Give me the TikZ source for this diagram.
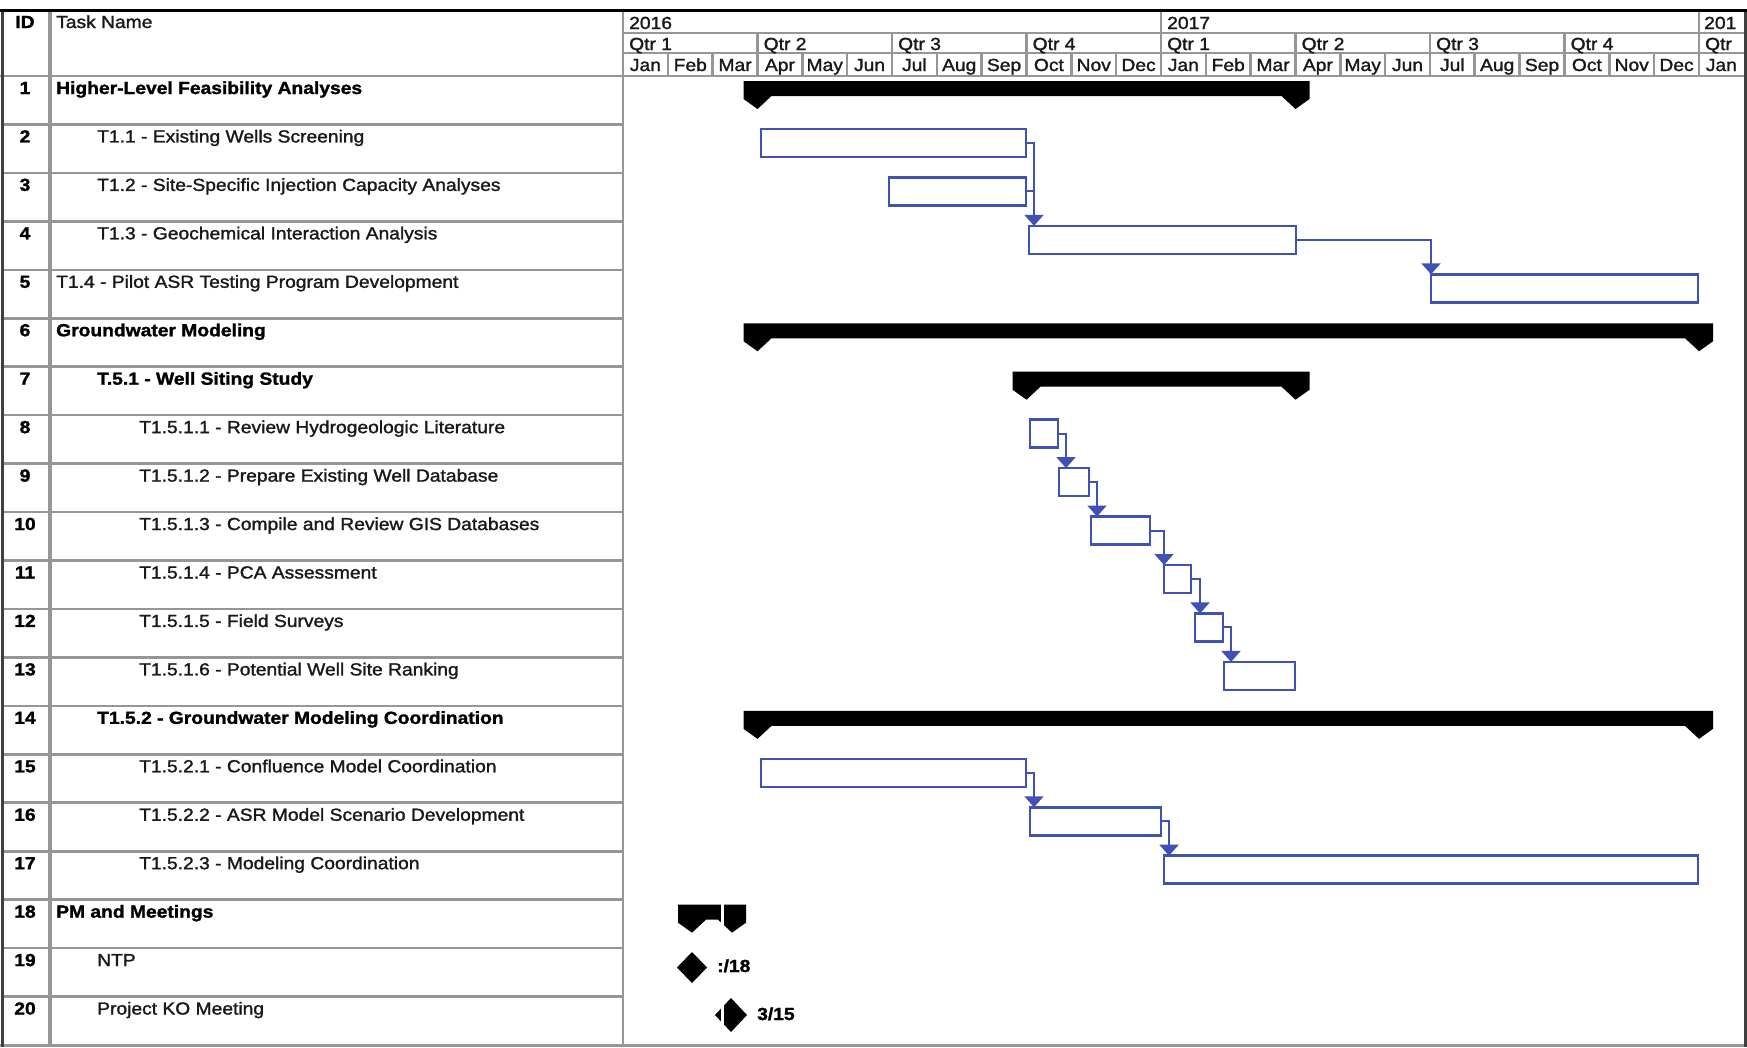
\documentclass[tikz,border=0pt]{standalone}
\usepackage{fontspec}
\setmainfont{Liberation Sans}[FakeStretch=1.1, FakeBold=1.5]
\usetikzlibrary{arrows.meta}
\definecolor{barblue}{RGB}{63,81,181}
\definecolor{gridgray}{RGB}{150,150,150}
\newcommand{\gsum}[3]{%
  \fill[black] (#1-14,#3+5) -- (#2+14,#3+5) -- (#2+14,#3+23) -- (#2,#3+33) -- (#2-14,#3+20)
    -- (#1+14,#3+20) -- (#1,#3+33) -- (#1-14,#3+23) -- cycle;}
\begin{document}
\begin{tikzpicture}[x=1pt,y=-1pt,
  txt/.style={inner sep=0pt, font=\fontsize{17.5}{20}\selectfont, text=black!90},
  btxt/.style={inner sep=0pt, font=\fontsize{17.5}{20}\selectfont\bfseries, text=black},
  grid/.style={gridgray, line width=2.2},
  taskbar/.style={draw=barblue, line width=2.5, fill=white, minimum height=28, inner sep=0pt, outer sep=0pt, anchor=north west},
  conn/.style={barblue, line width=2, -{Triangle[width=19pt,length=11pt]}},
  connline/.style={barblue, line width=2}]
\useasboundingbox (0,0) rectangle (1747,1047);
\fill[white] (0,0) rectangle (1747,1047);

% ---- table grid ----
\foreach \i in {1,...,19} \draw[grid, line width=2.6] (2,{76+48.45*\i}) -- (623,{76+48.45*\i});
\draw[grid] (0,76) -- (1747,76);
\draw[grid] (0,1045.5) -- (1747,1045.5);
\draw[grid, line width=3.5] (50,12) -- (50,1045);
\draw[grid] (623,12) -- (623,1045);
% header grid of the time scale
\draw[grid] (623,33) -- (1747,33);
\draw[grid] (623,53) -- (1747,53);
\foreach \m in {12,24} \draw[grid] ({623+44.83*\m},12) -- ({623+44.83*\m},33);
\foreach \q in {1,...,8} \draw[grid] ({623+3*44.83*\q},33) -- ({623+3*44.83*\q},53);
\foreach \m in {1,...,24} \draw[grid, line width=2.6] ({623+44.83*\m},53) -- ({623+44.83*\m},76);
% frame
\draw[black!75, line width=3] (2,10) -- (2,1047);
\draw[black!75, line width=3] (1745.5,10) -- (1745.5,1047);
\draw[black, line width=3.5] (0,10.5) -- (1747,10.5);

% ---- header texts ----
\node[btxt, anchor=base] (hid) at (25,28) {ID};
\node[txt, anchor=base west] (hname) at (56,28) {Task Name};
\node[txt, anchor=base west] (y16) at (629,29) {2016};
\node[txt, anchor=base west] (y17) at (1167,29) {2017};
\node[txt, anchor=base west] (y18) at (1704,29) {201};
\foreach \q/\lab in {0/Qtr 1,1/Qtr 2,2/Qtr 3,3/Qtr 4,4/Qtr 1,5/Qtr 2,6/Qtr 3,7/Qtr 4,8/Qtr}
  \node[txt, anchor=base west] (q\q) at ({623+3*44.83*\q+6},50) {\lab};
\foreach \nm [count=\k from 0] in {Jan,Feb,Mar,Apr,May,Jun,Jul,Aug,Sep,Oct,Nov,Dec,Jan,Feb,Mar,Apr,May,Jun,Jul,Aug,Sep,Oct,Nov,Dec,Jan}
  \node[txt, anchor=base] (mo\k) at ({623+44.83*(\k+0.5)},71) {\nm};

% ---- row texts ----
\foreach \i in {1,...,20} \node[btxt, anchor=base] (id\i) at (25,{94+48.45*(\i-1)}) {\i};
\node[btxt, anchor=base west] (tn1) at (56,94) {Higher-Level Feasibility Analyses};
\node[txt, anchor=base west] (tn2) at (97,142.45) {T1.1 - Existing Wells Screening};
\node[txt, anchor=base west] (tn3) at (97,190.9) {T1.2 - Site-Specific Injection Capacity Analyses};
\node[txt, anchor=base west] (tn4) at (97,239.35) {T1.3 - Geochemical Interaction Analysis};
\node[txt, anchor=base west] (tn5) at (56,287.8) {T1.4 - Pilot ASR Testing Program Development};
\node[btxt, anchor=base west] (tn6) at (56,336.25) {Groundwater Modeling};
\node[btxt, anchor=base west] (tn7) at (97,384.7) {T.5.1 - Well Siting Study};
\node[txt, anchor=base west] (tn8) at (139,433.15) {T1.5.1.1 - Review Hydrogeologic Literature};
\node[txt, anchor=base west] (tn9) at (139,481.6) {T1.5.1.2 - Prepare Existing Well Database};
\node[txt, anchor=base west] (tn10) at (139,530.05) {T1.5.1.3 - Compile and Review GIS Databases};
\node[txt, anchor=base west] (tn11) at (139,578.5) {T1.5.1.4 - PCA Assessment};
\node[txt, anchor=base west] (tn12) at (139,626.95) {T1.5.1.5 - Field Surveys};
\node[txt, anchor=base west] (tn13) at (139,675.4) {T1.5.1.6 - Potential Well Site Ranking};
\node[btxt, anchor=base west] (tn14) at (97,723.85) {T1.5.2 - Groundwater Modeling Coordination};
\node[txt, anchor=base west] (tn15) at (139,772.3) {T1.5.2.1 - Confluence Model Coordination};
\node[txt, anchor=base west] (tn16) at (139,820.75) {T1.5.2.2 - ASR Model Scenario Development};
\node[txt, anchor=base west] (tn17) at (139,869.2) {T1.5.2.3 - Modeling Coordination};
\node[btxt, anchor=base west] (tn18) at (56,917.65) {PM and Meetings};
\node[txt, anchor=base west] (tn19) at (97,966.1) {NTP};
\node[txt, anchor=base west] (tn20) at (97,1014.55) {Project KO Meeting};

% ---- summary bars ----
\gsum{757.5}{1295.5}{76}
\gsum{757.5}{1699}{318.25}
\gsum{1026.5}{1295.5}{366.7}
\gsum{757.5}{1699}{705.85}
\gsum{692}{732}{899.65}

% ---- task bars ----
\node[taskbar, minimum width=265] (b2) at (761,128.95) {};
\node[taskbar, minimum width=137] (b3) at (889,177.4) {};
\node[taskbar, minimum width=267] (b4) at (1029,225.85) {};
\node[taskbar, minimum width=267] (b5) at (1431,274.3) {};
\node[taskbar, minimum width=28] (b8) at (1030,419.65) {};
\node[taskbar, minimum width=30] (b9) at (1059,468.1) {};
\node[taskbar, minimum width=59] (b10) at (1091,516.55) {};
\node[taskbar, minimum width=27] (b11) at (1164,565) {};
\node[taskbar, minimum width=28] (b12) at (1195,613.45) {};
\node[taskbar, minimum width=71] (b13) at (1224,661.9) {};
\node[taskbar, minimum width=265] (b15) at (761,758.8) {};
\node[taskbar, minimum width=131] (b16) at (1030,807.25) {};
\node[taskbar, minimum width=534] (b17) at (1164,855.7) {};

% ---- links ----
\coordinate (k2) at (1034,0);
\coordinate (k4) at (1431,0);
\coordinate (k8) at (1066,0);
\coordinate (k9) at (1097,0);
\coordinate (k10) at (1164,0);
\coordinate (k11) at (1200,0);
\coordinate (k12) at (1231,0);
\coordinate (k15) at (1034,0);
\coordinate (k16) at (1169,0);
\draw[connline] (b3.east) -- (k2 |- b3.east);
\draw[conn] (b2.east) -| (k2 |- b4.north);
\draw[conn] (b4.east) -| (k4 |- b5.north);
\draw[conn] (b8.east) -| (k8 |- b9.north);
\draw[conn] (b9.east) -| (k9 |- b10.north);
\draw[conn] (b10.east) -| (k10 |- b11.north);
\draw[conn] (b11.east) -| (k11 |- b12.north);
\draw[conn] (b12.east) -| (k12 |- b13.north);
\draw[conn] (b15.east) -| (k15 |- b16.north);
\draw[conn] (b16.east) -| (k16 |- b17.north);

% ---- milestones ----
\fill[black] (677,967.5) -- (692,952) -- (707,967.5) -- (692,983) -- cycle;
\node[btxt, anchor=base west] (m19) at (717,972) {:/18};
\fill[black] (715,1015) -- (731,998) -- (747,1015) -- (731,1032) -- cycle;
\node[btxt, anchor=base west] (m20) at (757,1020) {3/15};
\fill[white] (720.5,900) rectangle (723.5,940);
\fill[white] (720.5,995) rectangle (723.5,1035);
\end{tikzpicture}
\end{document}
